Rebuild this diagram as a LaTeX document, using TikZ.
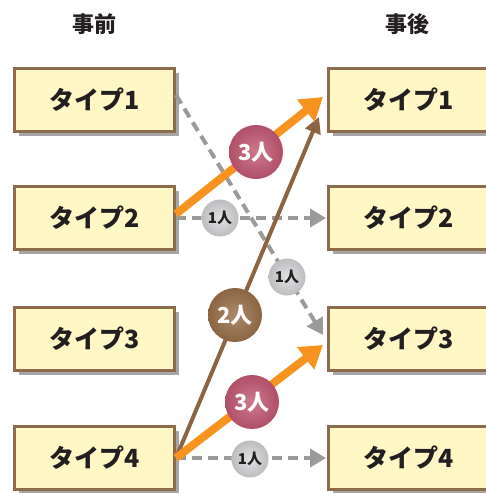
\documentclass[tikz,border=0pt]{standalone}
\usepackage{fontspec}
\setmainfont{Noto Sans CJK JP}[BoldFont={Noto Sans CJK JP Black}]
\usetikzlibrary{arrows.meta,shadows}
\definecolor{boxfill}{HTML}{FFF7C6}
\definecolor{boxline}{HTML}{8E6B4C}
\definecolor{orng}{HTML}{F7931E}
\definecolor{crim}{HTML}{B04F68}
\definecolor{crimlight}{HTML}{CC7A8C}
\definecolor{brwn}{HTML}{8B6543}
\definecolor{brwnlight}{HTML}{AA8A6C}
\definecolor{gry}{HTML}{9A9A9A}
\definecolor{gcirc}{HTML}{BDBDC0}
\definecolor{gcirclight}{HTML}{E2E2E4}
\definecolor{txt}{HTML}{231F20}
\begin{document}
\begin{tikzpicture}[x=1pt,y=-1pt,
  typebox/.style={draw=boxline,line width=3.5pt,fill=boxfill,minimum width=160pt,minimum height=63pt,
    inner sep=0pt,font=\fontsize{25}{25}\bfseries,text=txt,
    drop shadow={shadow xshift=4pt,shadow yshift=-4pt,opacity=0.35,fill=black}},
  title/.style={font=\fontsize{22}{22}\bfseries,text=txt},
  dasharrow/.style={draw=gry,line width=4pt,dash pattern=on 10pt off 6pt,
    -{Triangle[length=16pt,width=18pt]}},
  orangearrow/.style={draw=orng,line width=8pt,-{Triangle[length=22pt,width=27pt]}},
  brownarrow/.style={draw=brwn,line width=4pt,-{Triangle[length=16pt,width=16pt]}},
  bigcirc/.style={circle,minimum size=54pt,inner sep=0pt,text=white,font=\fontsize{22}{22}\bfseries},
  smallcirc/.style={circle,minimum size=37pt,inner sep=0pt,text=txt,font=\fontsize{15}{15}\bfseries,
    inner color=gcirclight,outer color=gcirc},
]
\useasboundingbox (0,0) rectangle (485,493);
\node[title] (pre) at (94,24) {事前};
\node[title] (post) at (407,24) {事後};
\node[typebox] (L1) at (94.5,100) {タイプ1};
\node[typebox] (L2) at (94.5,218) {タイプ2};
\node[typebox] (L3) at (94.5,339) {タイプ3};
\node[typebox] (L4) at (94.5,458) {タイプ4};
\node[typebox] (R1) at (408.5,100) {タイプ1};
\node[typebox] (R2) at (408.5,218) {タイプ2};
\node[typebox] (R3) at (408.5,339) {タイプ3};
\node[typebox] (R4) at (408.5,458) {タイプ4};
% endpoints
\coordinate (s1) at (176,95);
\coordinate (s2) at (176,214);
\coordinate (s2d) at (176,218);
\coordinate (s4) at (176,458);
\coordinate (t1o) at (323,97);
\coordinate (t1b) at (319,117);
\coordinate (t2) at (326,218);
\coordinate (t3d) at (323,335);
\coordinate (t3o) at (323,345);
\coordinate (t4) at (326,458);
% dashed
\draw[dasharrow] (s1) -- (t3d);
\draw[dasharrow] (s2d) -- (t2);
\draw[dasharrow] (s4) -- (t4);
% brown
\draw[brownarrow] (s4) -- (t1b);
% orange
\draw[orangearrow] (s2) -- (t1o);
\draw[orangearrow] (s4) -- (t3o);
% circles
\node[bigcirc,inner color=crimlight,outer color=crim] (c1) at (256,152) {3人};
\node[bigcirc,inner color=brwnlight,outer color=brwn] (c2) at (235,315) {2人};
\node[bigcirc,inner color=crimlight,outer color=crim] (c3) at (252,402) {3人};
\node[smallcirc] (d1) at (220,218) {1人};
\node[smallcirc] (d2) at (287,277) {1人};
\node[smallcirc] (d3) at (250,459) {1人};
\end{tikzpicture}
\end{document}
